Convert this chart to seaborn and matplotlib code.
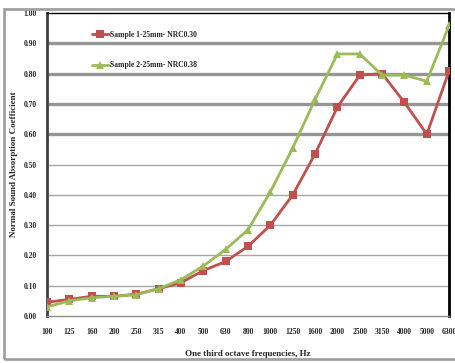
import numpy as np
import pandas as pd
import matplotlib
matplotlib.use("Agg")
import matplotlib.pyplot as plt
import seaborn as sns
from matplotlib.patches import Rectangle

freqs = ["100", "125", "160", "200", "250", "315", "400", "500", "630", "800",
         "1000", "1250", "1600", "2000", "2500", "3150", "4000", "5000", "6300"]
sample1 = [0.045, 0.055, 0.065, 0.065, 0.072, 0.09, 0.11, 0.15, 0.18, 0.23,
           0.30, 0.40, 0.535, 0.69, 0.795, 0.80, 0.705, 0.60, 0.81]
sample2 = [0.03, 0.05, 0.06, 0.065, 0.07, 0.09, 0.12, 0.165, 0.22, 0.285,
           0.41, 0.555, 0.715, 0.865, 0.865, 0.795, 0.795, 0.775, 0.96]
names = ["Sample 1-25mm- NRC0.30", "Sample 2-25mm- NRC0.38"]
yticks = [0.0, 0.1, 0.2, 0.3, 0.4, 0.5, 0.6, 0.7, 0.8, 0.9, 1.0]

sns.set_style("white")
plt.rcParams["font.family"] = ["Liberation Serif", "DejaVu Serif"]

fig = plt.figure(figsize=(4.56, 3.63), dpi=100)
ax = fig.add_axes([0.103, 0.1295, 0.882, 0.8345])

pos = np.arange(len(freqs))
df = pd.DataFrame({"pos": np.concatenate([pos, pos]),
                   "val": sample1 + sample2,
                   "series": [names[0]] * len(freqs) + [names[1]] * len(freqs)})

# gridlines
for v in yticks[1:-1]:
    thick = 0.55 < v < 0.95
    ax.axhline(v, color="#959595" if thick else "#a6a6a6",
               lw=2.4 if thick else 1.0, zorder=0)

sns.lineplot(data=df, x="pos", y="val", hue="series", style="series",
             palette={names[0]: "#C0504D", names[1]: "#9BBB59"},
             markers={names[0]: "s", names[1]: "^"},
             dashes=False, lw=2.0, markersize=5.5, markeredgewidth=0,
             ax=ax, zorder=3)

ax.set_xlim(0, len(freqs) - 1)
ax.set_ylim(0, 1.0)
ax.set_xticks(pos)
ax.set_xticklabels(freqs)
ax.set_yticks(yticks)
ax.set_yticklabels([f"{v:.2f}" for v in yticks])
ax.tick_params(axis="both", labelsize=5.5, length=2.5, width=0.8,
               color="#808080", pad=5, direction="out")
for lab in ax.get_xticklabels() + ax.get_yticklabels():
    lab.set_fontweight("bold")
ax.tick_params(axis="x", pad=6)

ax.spines["left"].set_color("#404040")
ax.spines["left"].set_linewidth(2.0)
ax.spines["right"].set_color("black")
ax.spines["right"].set_linewidth(2.0)
ax.spines["top"].set_color("black")
ax.spines["top"].set_linewidth(1.0)
ax.spines["bottom"].set_color("#8c8c8c")
ax.spines["bottom"].set_linewidth(1.0)

ax.set_xlabel("One third octave frequencies, Hz", fontsize=6.5,
              fontweight="bold", labelpad=10)
ax.set_ylabel("Normal Sound Absorption Coefficient", fontsize=6.5,
              fontweight="bold")
ax.yaxis.set_label_coords(-0.072, 0.5)

leg = ax.legend(loc="upper left", bbox_to_anchor=(0.095, 0.965), frameon=False,
                fontsize=5.5, handlelength=2.2, handletextpad=0.1,
                labelspacing=3.0)
for t in leg.get_texts():
    t.set_fontweight("bold")

fig.patches.append(Rectangle((0.008, 0.012), 1.2, 0.962, transform=fig.transFigure,
                             fill=False, edgecolor="#a0a0a0", lw=2.0))

fig.savefig("out.png", dpi=100)
